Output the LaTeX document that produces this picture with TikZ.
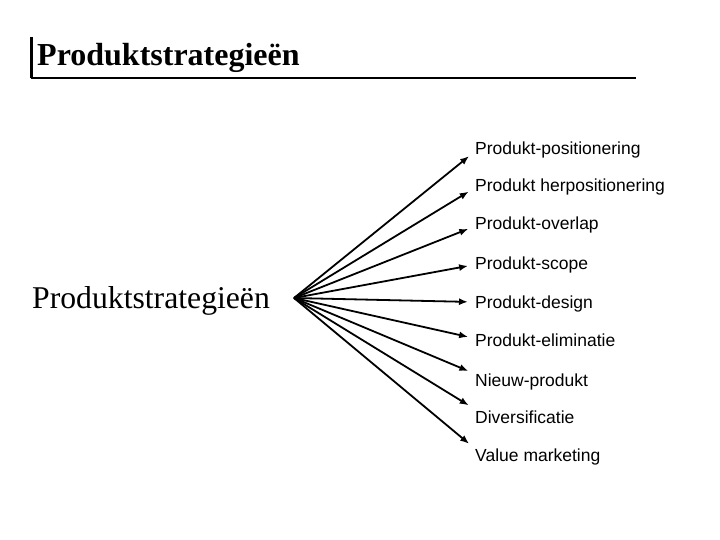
\documentclass[tikz,border=0pt]{standalone}
\usepackage{fontspec}
\setmainfont{Liberation Serif}
\setsansfont{Liberation Sans}
\usetikzlibrary{arrows.meta}
\begin{document}
\begin{tikzpicture}[x=1pt,y=-1pt,
  pijl/.style={-{Latex[length=9pt,width=7pt]}, line width=1.8pt, shorten >=5pt},
  tak/.style={anchor=base west, inner sep=2pt, font=\sffamily\fontsize{17.5}{21}\selectfont}]
  \useasboundingbox (0,0) rectangle (720,540);
  % Titel
  \node[anchor=west, inner sep=0pt, font=\fontsize{32}{38}\selectfont\bfseries] (titel) at (37,58) {Produktstrategieën};
  \draw[line width=3pt] (31,37) -- (31,78);
  \draw[line width=1.2pt] (31,78) -- (636,78);
  % Bron
  \node[anchor=west, inner sep=0pt, font=\fontsize{31.7}{38}\selectfont] (bron) at (32,301) {Produktstrategieën};
  \coordinate (src) at (294,298);
  % Takken (basislijn / hoogte van de pijlpunt)
  \foreach \y/\d/\txt [count=\i] in {154.3/1.3/Produkt-positionering, 191.3/2.3/Produkt herpositionering,
      229.3/2.3/Produkt-overlap, 269.3/4.3/Produkt-scope, 308.3/6.3/Produkt-design, 346.3/8.3/Produkt-eliminatie,
      386.3/13.3/Nieuw-produkt, 423.3/15.3/Diversificatie, 461.3/14.3/Value marketing}{
    \node[tak] (t\i) at (473,\y) {\txt};
    \draw[pijl] (src) -- ([yshift=\d pt]t\i.base west);
  }
\end{tikzpicture}
\end{document}
